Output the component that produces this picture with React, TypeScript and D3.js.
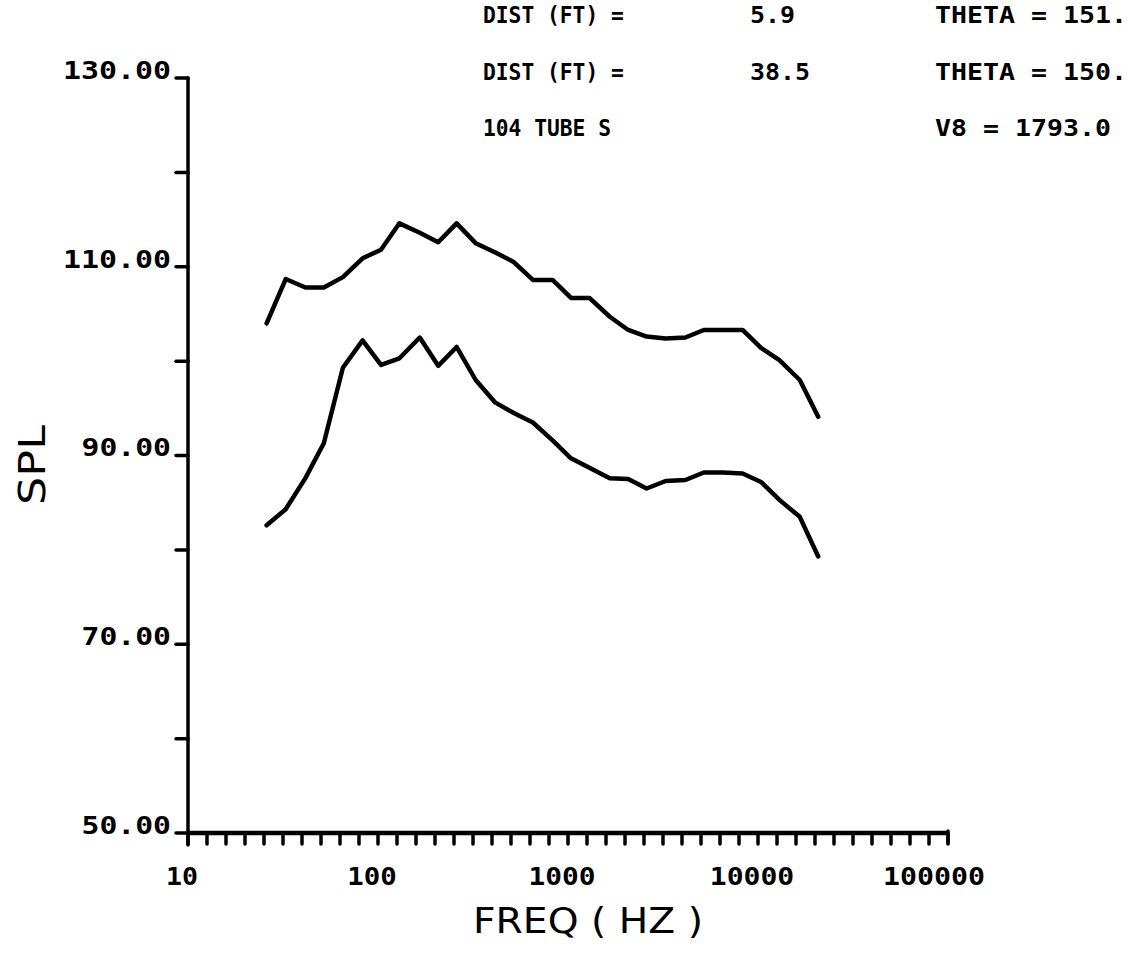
import React from "react";
import * as d3 from "d3";

// Third-octave band centre frequencies (Hz)
const freqs = [25, 31.5, 40, 50, 63, 80, 100, 125, 160, 200, 250, 315, 400, 500, 630, 800, 1000, 1250, 1600, 2000, 2500, 3150, 4000, 5000, 6300, 8000, 10000, 12500, 16000, 20000];
// SPL at DIST = 5.9 ft (upper curve)
const splNear = [104.0, 108.7, 107.8, 107.8, 108.9, 110.9, 111.8, 114.6, 113.6, 112.6, 114.6, 112.5, 111.5, 110.5, 108.6, 108.6, 106.7, 106.7, 104.7, 103.3, 102.6, 102.4, 102.5, 103.3, 103.3, 103.3, 101.4, 100.1, 98.0, 94.1];
// SPL at DIST = 38.5 ft (lower curve)
const splFar = [82.6, 84.3, 87.6, 91.3, 99.3, 102.2, 99.6, 100.3, 102.5, 99.5, 101.5, 98.0, 95.6, 94.5, 93.5, 91.6, 89.7, 88.7, 87.6, 87.5, 86.5, 87.3, 87.4, 88.2, 88.2, 88.1, 87.2, 85.3, 83.5, 79.3];

const yTicks = [50, 60, 70, 80, 90, 100, 110, 120, 130];
const yLabelTicks = [50, 70, 90, 110, 130];
const xLabelTicks = [10, 100, 1000, 10000, 100000];
const xLabels = ["10", "100", "1000", "10000", "100000"];

const headerCol1 = ["DIST (FT) =", "DIST (FT) =", "104 TUBE S"];
const headerCol2 = ["5.9", "38.5", ""];
const headerCol3 = ["THETA = 151.", "THETA = 150.", "V8 = 1793.0"];

export default function App() {
  const W = 1129, H = 959;
  const x = d3.scaleLog().domain([10, 100000]).range([188, 948]);
  const y = d3.scaleLinear().domain([50, 130]).range([833, 78]);
  const line = d3.line<number>().x((_, i) => x(freqs[i]) + 3).y((d) => y(d));
  const minorX = d3.range(0, 41).map((i) => Math.pow(10, 1 + i / 10));
  const mono = "'DejaVu Sans Mono', monospace";
  const charW = 18.5;
  const headRows = [15, 72, 128];
  return (
    <svg width={W} height={H} viewBox={`0 0 ${W} ${H}`} style={{ position: "absolute", left: 0, top: 0, background: "#fff" }}>
      <rect x={0} y={0} width={W} height={H} fill="#fff" />
      {/* Y axis */}
      <line x1={x(10)} x2={x(10)} y1={y(130)} y2={y(50) + 12} stroke="#000" strokeWidth={3.5} strokeLinecap="round" />
      {yTicks.map((t) => (
        <line key={t} x1={x(10) - 12} x2={x(10)} y1={y(t)} y2={y(t)} stroke="#000" strokeWidth={3.5} strokeLinecap="round" />
      ))}
      {yLabelTicks.map((t) => {
        const s = t.toFixed(2);
        return (
          <text key={t} x={171} y={y(t) - 8} dy="0.35em" textAnchor="end" fontFamily={mono} fontWeight="bold" fontSize={25}
            textLength={s.length * charW - 3} lengthAdjust="spacingAndGlyphs" fill="#000">{s}</text>
        );
      })}
      {/* X axis */}
      <line x1={x(10)} x2={x(100000)} y1={y(50)} y2={y(50)} stroke="#000" strokeWidth={4.5} />
      <line x1={x(100000)} x2={x(100000)} y1={y(50) - 2} y2={y(50) + 10} stroke="#000" strokeWidth={3.5} strokeLinecap="round" />
      {minorX.map((f, i) => (
        <line key={i} x1={x(f)} x2={x(f)} y1={y(50)} y2={y(50) + 11} stroke="#000" strokeWidth={3.5} strokeLinecap="round" />
      ))}
      {xLabelTicks.map((f, i) => (
        <text key={f} x={x(f) - 6 - (i === 4 ? 8 : 0)} y={877} dy="0.35em" textAnchor="middle" fontFamily={mono} fontWeight="bold" fontSize={24}
          textLength={xLabels[i].length * 17.5 - 3} lengthAdjust="spacingAndGlyphs" fill="#000">{xLabels[i]}</text>
      ))}
      {/* Axis titles */}
      <text x={588} y={920} dy="0.35em" textAnchor="middle" fontFamily="'DejaVu Sans', sans-serif" fontSize={36}
        textLength={230} lengthAdjust="spacingAndGlyphs" fill="#000">FREQ ( HZ )</text>
      <text transform={`translate(32,465) rotate(-90)`} dy="0.35em" textAnchor="middle" fontFamily="'DejaVu Sans', sans-serif" fontSize={38}
        textLength={80} lengthAdjust="spacingAndGlyphs" fill="#000">SPL</text>
      {/* Curves */}
      <path d={line(splNear) || ""} fill="none" stroke="#000" strokeWidth={4.5} strokeLinejoin="round" strokeLinecap="round" />
      <path d={line(splFar) || ""} fill="none" stroke="#000" strokeWidth={4.5} strokeLinejoin="round" strokeLinecap="round" />
      {/* Header */}
      {headRows.map((ry, i) => (
        <g key={i}>
          <text x={483} y={ry} dy="0.35em" fontFamily={mono} fontWeight="bold" fontSize={23} fill="#000"
            textLength={headerCol1[i].length * 12.8} lengthAdjust="spacingAndGlyphs">{headerCol1[i]}</text>
          {headerCol2[i] ? (
            <text x={750} y={ry} dy="0.35em" fontFamily={mono} fontWeight="bold" fontSize={23} fill="#000"
              textLength={headerCol2[i].length * 15} lengthAdjust="spacingAndGlyphs">{headerCol2[i]}</text>
          ) : null}
          <text x={935} y={ry} dy="0.35em" fontFamily={mono} fontWeight="bold" fontSize={23} fill="#000"
            textLength={headerCol3[i].length * 16} lengthAdjust="spacingAndGlyphs">{headerCol3[i]}</text>
        </g>
      ))}
    </svg>
  );
}
